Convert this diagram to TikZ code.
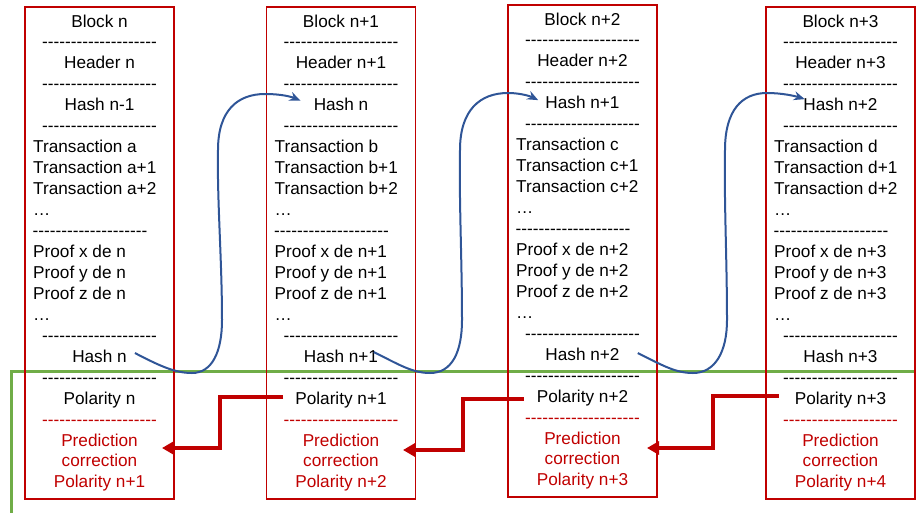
\documentclass[tikz,border=0pt]{standalone}
\usepackage{fontspec}
\usepackage{tikz}
\usetikzlibrary{arrows.meta}

\newfontfamily\arialfont{Liberation Sans}
\definecolor{blockred}{RGB}{192,0,0}
\definecolor{linkblue}{RGB}{47,85,151}
\definecolor{zonegreen}{RGB}{112,173,71}
\newcommand\dashrow{--------------------}

\tikzset{
  rowtxt/.style    = {font=\arialfont\fontsize{17.2}{20}\selectfont, inner sep=0pt, anchor=base},
  rowleft/.style   = {rowtxt, anchor=base west},
  rowred/.style    = {rowtxt, text=blockred},
  blockframe/.style= {draw=blockred, line width=1.5pt},
  zoneline/.style  = {draw=zonegreen, line width=2.5pt},
  hashlink/.style  = {draw=linkblue, line width=2pt, -{Stealth[length=11pt,width=9pt]}},
  polarrow/.style  = {draw=blockred, line width=4pt, -{Triangle[length=12pt,width=13pt]}},
}

\begin{document}
\begin{tikzpicture}[x=1pt,y=-1pt]
        \useasboundingbox (0,0) rectangle (916,512);

        \draw [zoneline] (920,371.5) -- (11.5,371.5) -- (11.5,516);          %zone

        \foreach \i/\bx/\dy/\cur/\prv/\nxt/\tr in {1/25/0/n/n-1/n+1/a, 2/266.5/0/n+1/n/n+2/b,
                                                  3/508/-2/n+2/n+1/n+3/c, 4/766/0/n+3/n+2/n+4/d}{
        \begin{scope}[shift={(\bx,\dy)}]
        \draw [blockframe] (0,7) rectangle (149,499);                        %frame
        \node [rowtxt]  (blk\i)  at (74.5,27)     {Block \cur};              %
        \node [rowtxt]  (da\i)   at (74.5,47.95)  {\dashrow};                %
        \node [rowtxt]  (hdr\i)  at (74.5,68.9)   {Header \cur};             %
        \node [rowtxt]  (db\i)   at (74.5,89.85)  {\dashrow};                %
        \node [rowtxt]  (prev\i) at (74.5,110.8)  {Hash \prv};               %in
        \node [rowtxt]  (dc\i)   at (74.5,131.75) {\dashrow};                %
        \node [rowleft] (ta\i)   at (8,152.7)     {Transaction \tr};         %
        \node [rowleft] (tb\i)   at (8,173.65)    {Transaction \tr+1};       %
        \node [rowleft] (tc\i)   at (8,194.6)     {Transaction \tr+2};       %
        \node [rowleft] (te\i)   at (8,215.55)    {…};                       %
        \node [rowleft] (dd\i)   at (7.5,236.5)   {\dashrow};                %
        \node [rowleft] (px\i)   at (8,257.45)    {Proof x de \cur};         %
        \node [rowleft] (py\i)   at (8,278.4)     {Proof y de \cur};         %
        \node [rowleft] (pz\i)   at (8,299.35)    {Proof z de \cur};         %
        \node [rowleft] (pe\i)   at (8,320.3)     {…};                       %
        \node [rowtxt]  (de\i)   at (74.5,341.25) {\dashrow};                %
        \node [rowtxt]  (hash\i) at (74.5,362.2)  {Hash \cur};               %out
        \node [rowtxt]  (df\i)   at (74.5,383.15) {\dashrow};                %
        \node [rowtxt]  (pol\i)  at (74.5,404.1)  {Polarity \cur};           %
        \node [rowred]  (dg\i)   at (74.5,425.05) {\dashrow};                %
        \node [rowred]  (pred\i) at (74.5,446)    {Prediction};              %
        \node [rowred]  (corr\i) at (74.5,466.95) {correction};              %
        \node [rowred]  (npol\i) at (74.5,487.9)  {Polarity \nxt};           %
        \end{scope}
        }

        %hash n -> hash n
        \draw [hashlink] ([xshift=8pt,yshift=3pt]hash1.east)
              .. controls (160,366) and (175,373) .. (192,373)
              .. controls (212,373) and (222,352) .. (222,320)
              .. controls (222,260) and (217,200) .. (218,150)
              .. controls (218,110) and (238,94)  .. (265,94)
              .. controls (282,94)  and (292,97)  .. ([xshift=-13pt,yshift=4pt]prev2.west);
        \draw [hashlink] ([xshift=-4.5pt,yshift=4pt]hash2.east)
              .. controls (398,364) and (412,373) .. (430,373)
              .. controls (452,373) and (462,352) .. (462,320)
              .. controls (462,260) and (459,200) .. (460,150)
              .. controls (460,110) and (480,93)  .. (508,93)
              .. controls (522,93)  and (532,97)  .. ([xshift=-7pt,yshift=2.5pt]prev3.west);
        \draw [hashlink] ([xshift=18pt,yshift=1pt]hash3.east)
              .. controls (662,365) and (675,373) .. (693,373)
              .. controls (715,373) and (727,352) .. (727,320)
              .. controls (727,260) and (724,200) .. (725,150)
              .. controls (725,110) and (742,93)  .. (767,93)
              .. controls (782,93)  and (795,96)  .. ([xshift=1.5pt,yshift=5.5pt]prev4.west);

        %polarity -> prediction
        \coordinate (tip1) at (162,448);
        \coordinate (tip2) at (403,450);
        \coordinate (tip3) at (647,448);
        \draw [polarrow] ([xshift=-12pt,yshift=2.5pt]pol2.west) -| (220,448) -- (tip1);
        \draw [polarrow] ([xshift=-13pt,yshift=-1pt]pol3.west)  -| (463,450) -- (tip2);
        \draw [polarrow] ([xshift=-16pt,yshift=3.5pt]pol4.west) -| (713,448) -- (tip3);
\end{tikzpicture}
\end{document}
